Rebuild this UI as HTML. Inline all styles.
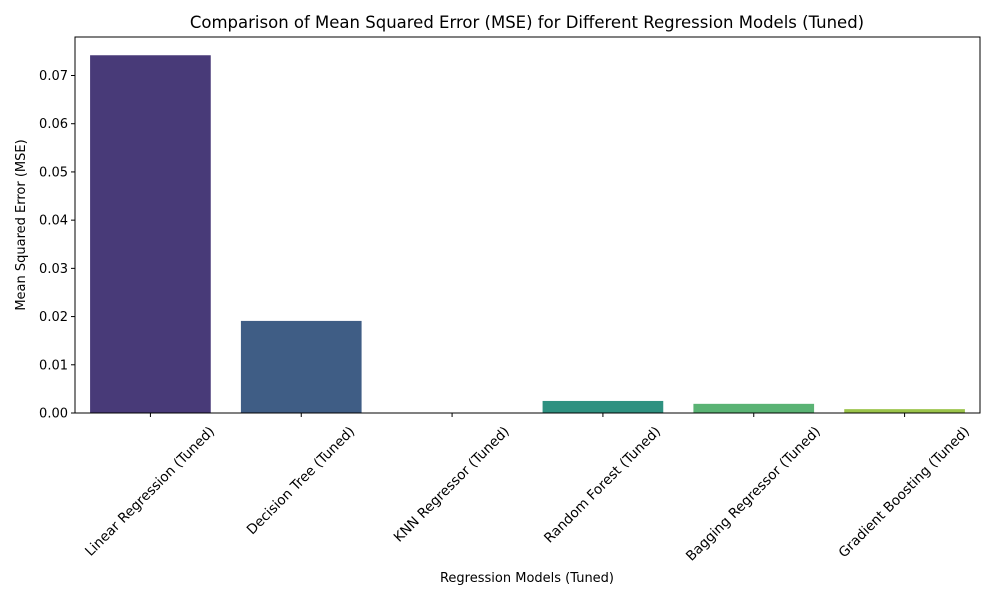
<!DOCTYPE html>
<html><head><meta charset="utf-8"><style>
body{margin:0;background:#fff;font-family:"Liberation Sans","DejaVu Sans",sans-serif}
text{font-family:"DejaVu Sans","Liberation Sans",sans-serif;fill:#000}
</style></head><body>
<svg id="chart" width="1000" height="600">
<text x="527" y="28" font-size="16.5" text-anchor="middle">Comparison of Mean Squared Error (MSE) for Different Regression Models (Tuned)</text>
<text x="527" y="582" font-size="13" text-anchor="middle">Regression Models (Tuned)</text>
<text transform="translate(25,225) rotate(-90)" font-size="13" text-anchor="middle">Mean Squared Error (MSE)</text>
<g id="plot"></g>
</svg>
<script>
const categories=["Linear Regression (Tuned)","Decision Tree (Tuned)","KNN Regressor (Tuned)","Random Forest (Tuned)","Bagging Regressor (Tuned)","Gradient Boosting (Tuned)"];
const mseValues=[0.0742,0.0191,0.0,0.0025,0.0019,0.0008];
const yTicks=[0,0.01,0.02,0.03,0.04,0.05,0.06,0.07];
const yTickLabels=["0.00","0.01","0.02","0.03","0.04","0.05","0.06","0.07"];
const colors=["#483a78","#3f5d85","#2f7a8a","#2e9180","#5ab374","#9bc44a"];
const L=75,R=980,T=37,B=413;
const ns="http://www.w3.org/2000/svg";
const g=document.getElementById('plot');
const y=v=>B-v/0.07*337.5;
const step=(R-L)/categories.length;
const x=i=>L+step*(i+0.5);
function mk(t,a){const e=document.createElementNS(ns,t);for(const k in a)e.setAttribute(k,a[k]);g.appendChild(e);return e;}
mseValues.forEach((v,i)=>{
 const r=mk('rect',{x:x(i)-step*0.4,y:y(v),width:step*0.8,height:B-y(v),fill:colors[i]});
 
 
});
yTicks.forEach((t,i)=>{
 const l=mk('line',{x1:L-4,x2:L,y1:y(t),y2:y(t),stroke:'#000','stroke-width':1});
 
 
 const tx=mk('text',{x:L-7,y:y(t)+4.5,'font-size':13,'text-anchor':'end'});
 tx.textContent=yTickLabels[i];
 
 
});
categories.forEach((c,i)=>{
 const l=mk('line',{x1:x(i),x2:x(i),y1:B,y2:B+4,stroke:'#000','stroke-width':1});
 
 
 const tx=mk('text',{'font-size':13.6,'text-anchor':'middle'});
 tx.textContent=c;
 
 
 const len=tx.getComputedTextLength();
 const h=(len+13)*0.7071;
 const cx=x(i)-1,cy=B+11+h/2;
 tx.setAttribute('x',cx);tx.setAttribute('y',cy+5);
 tx.setAttribute('transform','rotate(-45 '+cx+' '+cy+')');
});
const f=mk('rect',{x:L,y:T,width:R-L,height:B-T,fill:'none',stroke:'#000','stroke-width':1});


</script>
</body></html>
